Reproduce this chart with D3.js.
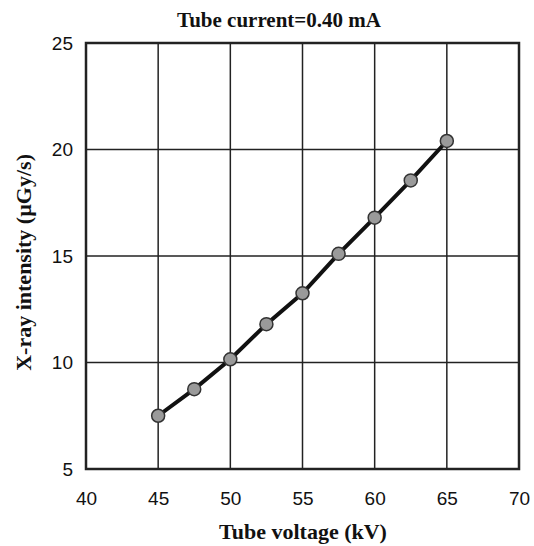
<!DOCTYPE html>
<html>
<head>
<meta charset="utf-8">
<script src="https://cdn.jsdelivr.net/npm/d3@7"></script>
<style>
  body { margin: 0; background: #fff; }
  svg text { fill: #111; }
  .serif { font-family: "Liberation Serif", "DejaVu Serif", serif; font-weight: bold; }
  .tick text { font-family: "Liberation Sans", Arial, sans-serif; }
</style>
</head>
<body>
<svg id="chart"></svg>
<script>
// data
var voltage = [45, 47.5, 50, 52.5, 55, 57.5, 60, 62.5, 65];
var intensity = [7.5, 8.75, 10.15, 11.8, 13.25, 15.1, 16.8, 18.55, 20.4];
var xTicks = [40, 45, 50, 55, 60, 65, 70];
var yTicks = [5, 10, 15, 20, 25];

var width = 534, height = 546;
var margin = {top: 43, right: 15, bottom: 77, left: 86};

var svg = d3.select("#chart")
    .attr("width", width)
    .attr("height", height);

var x = d3.scaleLinear()
    .domain([40, 70])
    .range([margin.left, width - margin.right]);

var y = d3.scaleLinear()
    .domain([5, 25])
    .range([height - margin.bottom, margin.top]);

// grid
svg.append("g")
    .selectAll("line")
    .data(xTicks.slice(1, -1))
  .enter().append("line")
    .attr("x1", function(d) { return x(d); })
    .attr("x2", function(d) { return x(d); })
    .attr("y1", y(5))
    .attr("y2", y(25))
    .attr("stroke", "#222")
    .attr("stroke-width", 1.5);

svg.append("g")
    .selectAll("line")
    .data(yTicks.slice(1, -1))
  .enter().append("line")
    .attr("x1", x(40))
    .attr("x2", x(70))
    .attr("y1", function(d) { return y(d); })
    .attr("y2", function(d) { return y(d); })
    .attr("stroke", "#222")
    .attr("stroke-width", 1.5);

// axes (labels only, frame drawn separately)
var xAxis = d3.axisBottom(x)
    .tickValues(xTicks)
    .tickSize(0)
    .tickPadding(23);

var yAxis = d3.axisLeft(y)
    .tickValues(yTicks)
    .tickSize(0)
    .tickPadding(13);

svg.append("g")
    .attr("transform", "translate(0," + y(5) + ")")
    .call(xAxis)
    .call(function(g) { g.select(".domain").remove(); })
    .selectAll("text")
    .style("font-size", "19px");

svg.append("g")
    .attr("transform", "translate(" + x(40) + ",0)")
    .call(yAxis)
    .call(function(g) { g.select(".domain").remove(); })
    .selectAll("text")
    .style("font-size", "19px");

// frame
svg.append("rect")
    .attr("x", x(40))
    .attr("y", y(25))
    .attr("width", x(70) - x(40))
    .attr("height", y(5) - y(25))
    .attr("fill", "none")
    .attr("stroke", "#222")
    .attr("stroke-width", 2.5);

// line + points
var pts = voltage.map(function(v, i) { return [v, intensity[i]]; });

svg.append("path")
    .datum(pts)
    .attr("fill", "none")
    .attr("stroke", "#111")
    .attr("stroke-width", 4)
    .attr("d", d3.line()
      .x(function(d) { return x(d[0]); })
      .y(function(d) { return y(d[1]); }));

svg.append("g")
    .selectAll("circle")
    .data(pts)
  .enter().append("circle")
    .attr("cx", function(d) { return x(d[0]); })
    .attr("cy", function(d) { return y(d[1]); })
    .attr("r", 6.5)
    .attr("fill", "#9a9a9a")
    .attr("stroke", "#333")
    .attr("stroke-width", 1.5);

// titles
svg.append("text")
    .attr("class", "serif")
    .attr("x", 279)
    .attr("y", 27)
    .attr("text-anchor", "middle")
    .style("font-size", "21px")
    .text("Tube current=0.40 mA");

svg.append("text")
    .attr("class", "serif")
    .attr("x", 303)
    .attr("y", 539)
    .attr("text-anchor", "middle")
    .style("font-size", "22px")
    .text("Tube voltage (kV)");

svg.append("text")
    .attr("class", "serif")
    .attr("transform", "translate(31," + y(14.7) + ") rotate(-90)")
    .attr("text-anchor", "middle")
    .style("font-size", "22px")
    .text("X-ray intensity (\u00b5Gy/s)");
</script>
</body>
</html>
